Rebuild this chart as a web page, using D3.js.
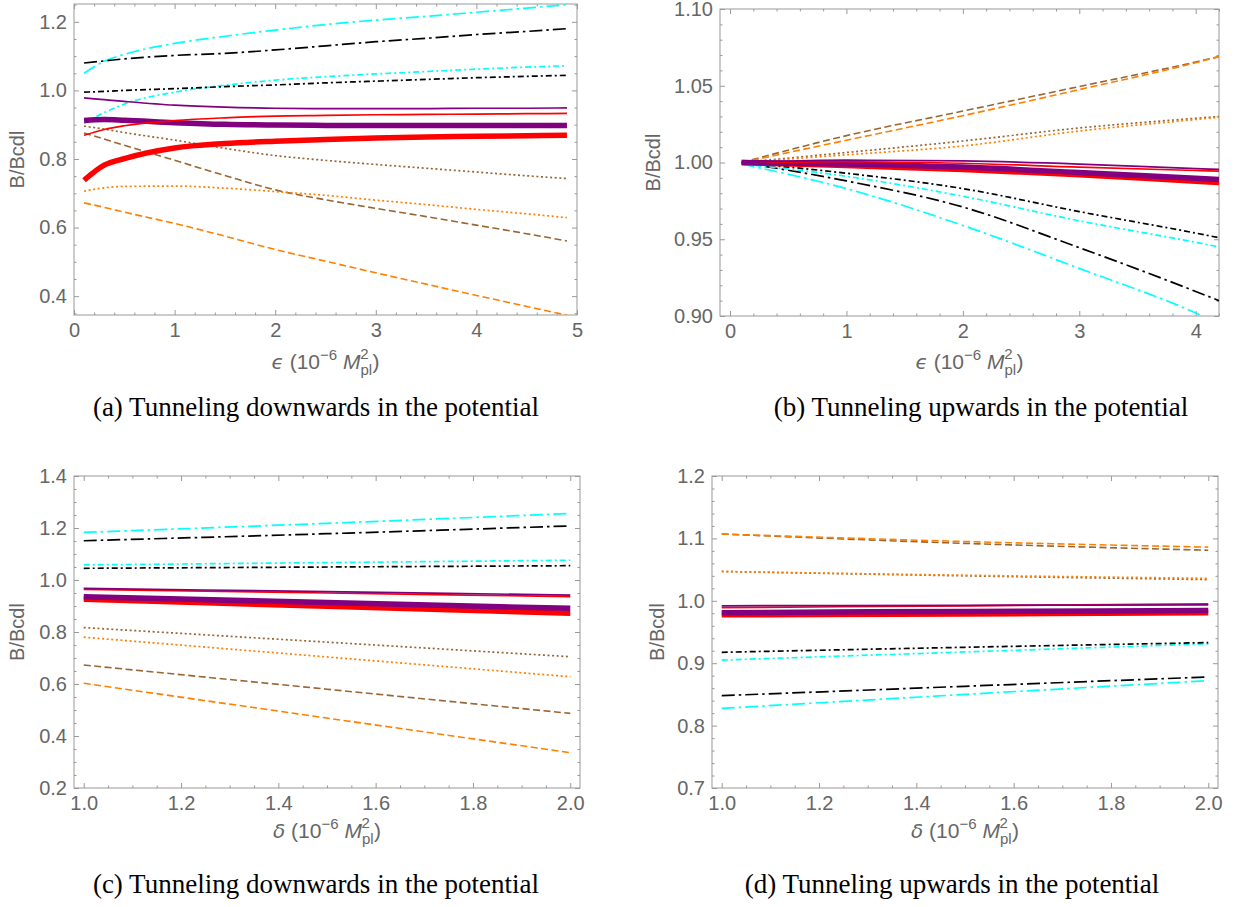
<!DOCTYPE html>
<html>
<head>
<meta charset="utf-8">
<script src="https://cdn.jsdelivr.net/npm/d3@7"></script>
<style>
  body { margin: 0; background: #fff; }
  .tick text { font-family: "Liberation Sans", Arial, sans-serif; font-size: 20px; fill: #666; }
  .tick line { stroke: #999; }
</style>
</head>
<body>
<svg id="fig"></svg>
<script>
// ---- data ----
// (a) tunneling downwards, B/Bcdl vs epsilon
const xA = [0.1, 0.3, 0.5, 1, 1.5, 2, 2.5, 3, 3.5, 4, 4.5, 4.9];
const aCyanLong    = [1.05, 1.085, 1.105, 1.137, 1.158, 1.176, 1.192, 1.205, 1.216, 1.228, 1.24, 1.25];
const aBlackLong   = [1.08, 1.086, 1.092, 1.102, 1.108, 1.118, 1.13, 1.142, 1.152, 1.163, 1.172, 1.18];
const aCyanShort   = [0.904, 0.935, 0.96, 0.995, 1.015, 1.03, 1.04, 1.048, 1.055, 1.062, 1.068, 1.072];
const aBlackShort  = [0.995, 0.997, 1.0, 1.005, 1.011, 1.016, 1.022, 1.027, 1.032, 1.037, 1.041, 1.044];
const aPurpleThin  = [0.978, 0.973, 0.968, 0.957, 0.951, 0.948, 0.947, 0.947, 0.947, 0.948, 0.948, 0.949];
const aPurpleThick = [0.912, 0.915, 0.913, 0.906, 0.901, 0.899, 0.898, 0.898, 0.898, 0.898, 0.898, 0.898];
const aRedThin     = [0.869, 0.886, 0.897, 0.912, 0.92, 0.925, 0.927, 0.929, 0.93, 0.931, 0.932, 0.933];
const aRedThick    = [0.738, 0.782, 0.801, 0.832, 0.845, 0.852, 0.857, 0.861, 0.864, 0.866, 0.868, 0.869];
const aBrownDot    = [0.896, 0.887, 0.877, 0.855, 0.831, 0.81, 0.796, 0.784, 0.773, 0.762, 0.751, 0.743];
const aOrangeDot   = [0.706, 0.716, 0.72, 0.721, 0.715, 0.705, 0.694, 0.68, 0.667, 0.653, 0.64, 0.629];
const aBrownDash   = [0.876, 0.858, 0.84, 0.796, 0.752, 0.71, 0.681, 0.656, 0.632, 0.607, 0.582, 0.561];
const aOrangeDash  = [0.672, 0.659, 0.645, 0.612, 0.575, 0.536, 0.502, 0.468, 0.435, 0.402, 0.37, 0.344];

// (b) tunneling upwards, B/Bcdl vs epsilon
const xB = [0.1, 1, 2, 3, 4, 4.2];
const bCyanLong    = [0.999, 0.983, 0.959, 0.931, 0.902, 0.895];
const bBlackLong   = [1.0, 0.988, 0.971, 0.9445, 0.916, 0.91];
const bCyanShort   = [0.999, 0.991, 0.978, 0.962, 0.948, 0.945];
const bBlackShort  = [1.0, 0.993, 0.983, 0.968, 0.954, 0.951];
const bPurpleThin  = [1.0, 1.0015, 1.001, 0.999, 0.996, 0.9955];
const bPurpleThick = [1.0, 0.999, 0.997, 0.9935, 0.9898, 0.989];
const bRedThin     = [1.0, 1.0005, 0.9995, 0.997, 0.9948, 0.9944];
const bRedThick    = [1.0, 0.998, 0.9955, 0.992, 0.9878, 0.987];
const bBrownDot    = [1.0, 1.0065, 1.014, 1.0225, 1.0288, 1.03];
const bOrangeDot   = [1.0, 1.005, 1.0108, 1.0205, 1.028, 1.0295];
const bBrownDash   = [1.0, 1.0175, 1.0335, 1.0495, 1.0655, 1.069];
const bOrangeDash  = [1.0, 1.0145, 1.0305, 1.0475, 1.065, 1.069];

// (c) tunneling downwards, B/Bcdl vs delta
const xC = [1, 1.5, 2];
const cCyanLong    = [1.183, 1.218, 1.256];
const cBlackLong   = [1.151, 1.178, 1.208];
const cCyanShort   = [1.058, 1.067, 1.076];
const cBlackShort  = [1.045, 1.05, 1.055];
const cPurpleThin  = [0.968, 0.955, 0.942];
const cPurpleThick = [0.936, 0.913, 0.891];
const cRedThin     = [0.964, 0.95, 0.936];
const cRedThick    = [0.926, 0.899, 0.872];
const cBrownDot    = [0.817, 0.761, 0.705];
const cOrangeDot   = [0.78, 0.704, 0.628];
const cBrownDash   = [0.673, 0.58, 0.487];
const cOrangeDash  = [0.603, 0.469, 0.336];

// (d) tunneling upwards, B/Bcdl vs delta
const xD = [1, 1.5, 2];
const dCyanLong    = [0.8275, 0.85, 0.872];
const dBlackLong   = [0.848, 0.863, 0.878];
const dCyanShort   = [0.905, 0.918, 0.931];
const dBlackShort  = [0.9175, 0.9255, 0.933];
const dPurpleThin  = [0.992, 0.9928, 0.9935];
const dPurpleThick = [0.981, 0.983, 0.9845];
const dRedThin     = [0.989, 0.992, 0.995];
const dRedThick    = [0.9775, 0.979, 0.981];
const dBrownDot    = [1.047, 1.04, 1.034];
const dOrangeDot   = [1.047, 1.041, 1.036];
const dBrownDash   = [1.107, 1.092, 1.081];
const dOrangeDash  = [1.107, 1.095, 1.086];

// tick labels
const ticksAx = [0, 1, 2, 3, 4, 5];
const ticksAy = [0.4, 0.6, 0.8, 1.0, 1.2];
const ticksBx = [0, 1, 2, 3, 4];
const ticksBy = [0.90, 0.95, 1.00, 1.05, 1.10];
const ticksCx = [1.0, 1.2, 1.4, 1.6, 1.8, 2.0];
const ticksCy = [0.2, 0.4, 0.6, 0.8, 1.0, 1.2, 1.4];
const ticksDx = [1.0, 1.2, 1.4, 1.6, 1.8, 2.0];
const ticksDy = [0.7, 0.8, 0.9, 1.0, 1.1, 1.2];

const captions = [
  "(a) Tunneling downwards in the potential",
  "(b) Tunneling upwards in the potential",
  "(c) Tunneling downwards in the potential",
  "(d) Tunneling upwards in the potential"
];

// ---- line styles, drawing order ----
const styles = [
  { key: "BrownDash",   color: "#996633", width: 1.6, dash: "7,3.5" },
  { key: "OrangeDash",  color: "#ff8000", width: 1.6, dash: "7,3.5" },
  { key: "BrownDot",    color: "#996633", width: 1.7, dash: "2,2.6" },
  { key: "OrangeDot",   color: "#ff8000", width: 1.7, dash: "2,2.6" },
  { key: "CyanLong",    color: "#00ffff", width: 1.7, dash: "13,4,2.5,4" },
  { key: "BlackLong",   color: "#000000", width: 1.7, dash: "13,4,2.5,4" },
  { key: "CyanShort",   color: "#00ffff", width: 1.7, dash: "6,3,2,3" },
  { key: "BlackShort",  color: "#000000", width: 1.7, dash: "6,3,2,3" },
  { key: "RedThick",    color: "#ff0000", width: 5.5, dash: null },
  { key: "PurpleThick", color: "#800080", width: 5.5, dash: null },
  { key: "RedThin",     color: "#ff0000", width: 1.7, dash: null },
  { key: "PurpleThin",  color: "#800080", width: 1.7, dash: null }
];

const seriesA = { CyanLong: aCyanLong, BlackLong: aBlackLong, CyanShort: aCyanShort, BlackShort: aBlackShort,
  PurpleThin: aPurpleThin, PurpleThick: aPurpleThick, RedThin: aRedThin, RedThick: aRedThick,
  BrownDot: aBrownDot, OrangeDot: aOrangeDot, BrownDash: aBrownDash, OrangeDash: aOrangeDash };
const seriesB = { CyanLong: bCyanLong, BlackLong: bBlackLong, CyanShort: bCyanShort, BlackShort: bBlackShort,
  PurpleThin: bPurpleThin, PurpleThick: bPurpleThick, RedThin: bRedThin, RedThick: bRedThick,
  BrownDot: bBrownDot, OrangeDot: bOrangeDot, BrownDash: bBrownDash, OrangeDash: bOrangeDash };
const seriesC = { CyanLong: cCyanLong, BlackLong: cBlackLong, CyanShort: cCyanShort, BlackShort: cBlackShort,
  PurpleThin: cPurpleThin, PurpleThick: cPurpleThick, RedThin: cRedThin, RedThick: cRedThick,
  BrownDot: cBrownDot, OrangeDot: cOrangeDot, BrownDash: cBrownDash, OrangeDash: cOrangeDash };
const seriesD = { CyanLong: dCyanLong, BlackLong: dBlackLong, CyanShort: dCyanShort, BlackShort: dBlackShort,
  PurpleThin: dPurpleThin, PurpleThick: dPurpleThick, RedThin: dRedThin, RedThick: dRedThick,
  BrownDot: dBrownDot, OrangeDot: dOrangeDot, BrownDash: dBrownDash, OrangeDash: dOrangeDash };

const panels = [
  { id: "a", left: 74, right: 577, top: 4, bottom: 315, xDomain: [0, 5], yDomain: [0.345, 1.252],
    xs: xA, series: seriesA, xTicks: ticksAx, yTicks: ticksAy, xMinor: 0.2, yMinor: 0.05,
    xFmt: d3.format("d"), yFmt: d3.format(".1f"), sym: "\u03f5",
    yTitleX: 17, xTitleY: 369, capX: 316, capY: 416, caption: captions[0] },
  { id: "b", left: 720, right: 1219, top: 9, bottom: 316, xDomain: [-0.086, 4.2], yDomain: [0.9, 1.1],
    xs: xB, series: seriesB, xTicks: ticksBx, yTicks: ticksBy, xMinor: 0.2, yMinor: 0.01,
    xFmt: d3.format("d"), yFmt: d3.format(".2f"), sym: "\u03f5",
    yTitleX: 653, xTitleY: 369, capX: 981, capY: 416, caption: captions[1] },
  { id: "c", left: 74, right: 580, top: 476, bottom: 788, xDomain: [0.98, 2.02], yDomain: [0.2, 1.4],
    xs: xC, series: seriesC, xTicks: ticksCx, yTicks: ticksCy, xMinor: 0.05, yMinor: 0.05,
    xFmt: d3.format(".1f"), yFmt: d3.format(".1f"), sym: "\u03b4",
    yTitleX: 17, xTitleY: 838, capX: 316, capY: 893, caption: captions[2] },
  { id: "d", left: 712, right: 1218, top: 476, bottom: 788, xDomain: [0.98, 2.02], yDomain: [0.7, 1.2],
    xs: xD, series: seriesD, xTicks: ticksDx, yTicks: ticksDy, xMinor: 0.05, yMinor: 0.02,
    xFmt: d3.format(".1f"), yFmt: d3.format(".1f"), sym: "\u03b4",
    yTitleX: 657, xTitleY: 838, capX: 952, capY: 893, caption: captions[3] }
];

const svg = d3.select("#fig").attr("width", 1237).attr("height", 907);

function minorValues(domain, step, major) {
  const out = [];
  const start = Math.ceil(domain[0] / step - 1e-9);
  const end = Math.floor(domain[1] / step + 1e-9);
  for (let i = start; i <= end; i++) {
    const v = +(i * step).toFixed(6);
    if (!major.some(m => Math.abs(m - v) < 1e-9)) out.push(v);
  }
  return out;
}

function drawPanel(p) {
  const x = d3.scaleLinear().domain(p.xDomain).range([p.left, p.right]);
  const y = d3.scaleLinear().domain(p.yDomain).range([p.bottom, p.top]);
  const g = svg.append("g");

  g.append("clipPath").attr("id", "clip-" + p.id)
    .append("rect")
    .attr("x", p.left).attr("y", p.top)
    .attr("width", p.right - p.left).attr("height", p.bottom - p.top);

  const xMin = minorValues(p.xDomain, p.xMinor, p.xTicks);
  const yMin = minorValues(p.yDomain, p.yMinor, p.yTicks);

  const axes = [
    [d3.axisBottom(x).tickValues(p.xTicks).tickSize(-5).tickPadding(8).tickFormat(p.xFmt), `translate(0,${p.bottom})`],
    [d3.axisBottom(x).tickValues(xMin).tickSize(-2.5).tickFormat(""), `translate(0,${p.bottom})`],
    [d3.axisTop(x).tickValues(p.xTicks).tickSize(-5).tickFormat(""), `translate(0,${p.top})`],
    [d3.axisTop(x).tickValues(xMin).tickSize(-2.5).tickFormat(""), `translate(0,${p.top})`],
    [d3.axisLeft(y).tickValues(p.yTicks).tickSize(-5).tickPadding(7).tickFormat(p.yFmt), `translate(${p.left},0)`],
    [d3.axisLeft(y).tickValues(yMin).tickSize(-2.5).tickFormat(""), `translate(${p.left},0)`],
    [d3.axisRight(y).tickValues(p.yTicks).tickSize(-5).tickFormat(""), `translate(${p.right},0)`],
    [d3.axisRight(y).tickValues(yMin).tickSize(-2.5).tickFormat(""), `translate(${p.right},0)`]
  ];
  axes.forEach(([ax, tr]) => {
    const a = g.append("g").attr("transform", tr).call(ax);
    a.select(".domain").remove();
  });

  g.append("rect")
    .attr("x", p.left).attr("y", p.top)
    .attr("width", p.right - p.left).attr("height", p.bottom - p.top)
    .attr("fill", "none").attr("stroke", "#999").attr("stroke-width", 1);

  const line = d3.line()
    .x(d => x(d[0]))
    .y(d => y(d[1]))
    .curve(d3.curveMonotoneX);

  const lines = g.append("g").attr("clip-path", `url(#clip-${p.id})`);
  styles.forEach(s => {
    const vals = p.series[s.key];
    lines.append("path")
      .datum(p.xs.map((xv, i) => [xv, vals[i]]))
      .attr("d", line)
      .attr("fill", "none")
      .attr("stroke", s.color)
      .attr("stroke-width", s.width)
      .attr("stroke-dasharray", s.dash)
      .attr("stroke-linejoin", "round");
  });

  // axis titles
  const yMid = (p.top + p.bottom) / 2;
  g.append("text")
    .attr("transform", `translate(${p.yTitleX},${yMid}) rotate(-90)`)
    .attr("text-anchor", "middle")
    .attr("dominant-baseline", "central")
    .attr("font-family", "Liberation Sans, Arial, sans-serif")
    .attr("font-size", 20)
    .attr("fill", "#666")
    .text("B/Bcdl");

  const t = g.append("text")
    .attr("x", (p.left + p.right) / 2)
    .attr("y", p.xTitleY)
    .attr("text-anchor", "middle")
    .attr("font-family", "Liberation Sans, Arial, sans-serif")
    .attr("font-size", 21)
    .attr("fill", "#666");
  t.append("tspan").attr("font-style", "italic").attr("font-family", "DejaVu Sans, sans-serif").attr("font-size", 20).text(p.sym);
  t.append("tspan").text(" (10");
  t.append("tspan").attr("font-size", 15).attr("dy", -9).text("\u22126");
  t.append("tspan").attr("dy", 9).text("  ");
  t.append("tspan").attr("font-style", "italic").text("M");
  t.append("tspan").attr("font-size", 15).attr("dy", 6).text("pl");
  t.append("tspan").attr("font-size", 15).attr("dx", -12).attr("dy", -16).text("2");
  t.append("tspan").attr("dx", 4).attr("dy", 10).text(")");

  // caption
  g.append("text")
    .attr("x", p.capX)
    .attr("y", p.capY)
    .attr("text-anchor", "middle")
    .attr("font-family", "Liberation Serif, Times New Roman, serif")
    .attr("font-size", 27)
    .attr("fill", "#000")
    .text(p.caption);
}

panels.forEach(drawPanel);
</script>
</body>
</html>
